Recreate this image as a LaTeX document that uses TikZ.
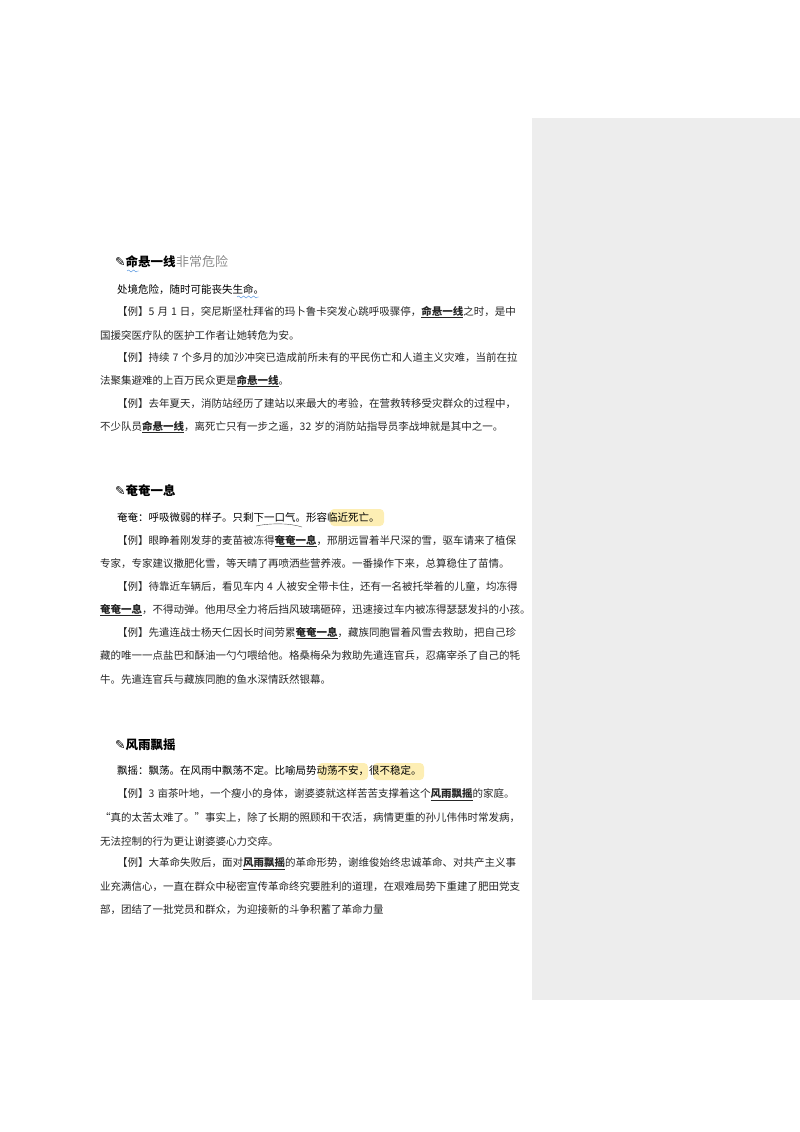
\documentclass[tikz,border=0pt]{standalone}
\usepackage{fontspec}
\setmainfont{Noto Sans CJK SC}
\newfontfamily\symfont{DejaVu Sans}
\usetikzlibrary{decorations.pathmorphing}
\XeTeXlinebreaklocale "zh"
\XeTeXlinebreakskip=0pt plus 2pt
\newcommand{\full}[1]{\makebox[422pt][s]{#1}}
\newcommand{\kw}[1]{\underline{\textbf{#1}}}
\newcommand{\pen}{{\symfont\char"270E}}
\newcommand{\gap}{\hspace{3pt}}
\definecolor{panel}{RGB}{237,237,237}
\definecolor{mark}{RGB}{253,238,180}
\definecolor{wave}{RGB}{70,140,220}
\tikzset{
    body/.style={anchor=west, inner sep=0pt, font=\fontsize{10.5}{12}\selectfont},
    example/.style={body, text=black!85},
    head/.style={anchor=west, inner sep=0pt, font=\fontsize{12.5}{14}\selectfont\bfseries},
    highlight/.style={fill=mark, rounded corners=4pt},
    squiggle/.style={wave, decorate, decoration={snake, amplitude=1pt, segment length=5pt}}
}
\begin{document}
\begin{tikzpicture}[x=1pt, y=-1pt]
    \useasboundingbox (0,0) rectangle (800,1132);
    \fill[panel] (532,118) rectangle (800,1000);

    % highlights
    \fill[highlight] (330,509) rectangle (384,526);
    \fill[highlight] (318,763) rectangle (368,780);
    \fill[highlight] (373,763) rectangle (424,780);

    % first entry
    \node[head] (h1) at (115,262) {\pen 命悬一线};
    \node[anchor=west, inner sep=0pt, text=black!45, font=\fontsize{13}{14}\selectfont\itshape] (h1note) at (h1.east) {非常危险};
    \draw[squiggle] (127,271) -- (139,271);
    \node[body] (d1) at (117,290) {处境危险，随时可能丧失生命。};
    \draw[squiggle] (237,297) -- (259,297);
    \node[example] (e1a) at (100,312) {\hspace{17pt}\makebox[405pt][s]{【例】5\gap 月\gap 1\gap 日，突尼斯坚杜拜省的玛卜鲁卡突发心跳呼吸骤停，\kw{命悬一线}之时，是中}};
    \node[example] (e1b) at (100,335) {国援突医疗队的医护工作者让她转危为安。};
    \node[example] (e2a) at (100,358) {\hspace{17pt}\makebox[405pt][s]{【例】持续\gap 7\gap 个多月的加沙冲突已造成前所未有的平民伤亡和人道主义灾难，当前在拉}};
    \node[example] (e2b) at (100,381) {法聚集避难的上百万民众更是\kw{命悬一线}。};
    \node[example] (e3a) at (100,404) {\hspace{17pt}\makebox[405pt][s]{【例】去年夏天，消防站经历了建站以来最大的考验，在营救转移受灾群众的过程中，}};
    \node[example] (e3b) at (100,427) {\full{不少队员\kw{命悬一线}，离死亡只有一步之遥，32\gap 岁的消防站指导员李战坤就是其中之一。}};

    % second entry
    \node[head] (h2) at (115,491) {\pen 奄奄一息};
    \node[body] (d2) at (117,517) {奄奄：呼吸微弱的样子。只剩下一口气。形容临近死亡。};
    \draw[black!70] (256,526) .. controls (270,523) and (290,523) .. (302,527);
    \node[example] (e4a) at (100,541) {\hspace{17pt}\makebox[405pt][s]{【例】眼睁着刚发芽的麦苗被冻得\kw{奄奄一息}，邢朋远冒着半尺深的雪，驱车请来了植保}};
    \node[example] (e4b) at (100,564) {\full{专家，专家建议撒肥化雪，等天晴了再喷洒些营养液。一番操作下来，总算稳住了苗情。}};
    \node[example] (e5a) at (100,587) {\hspace{17pt}\makebox[405pt][s]{【例】待靠近车辆后，看见车内\gap 4\gap 人被安全带卡住，还有一名被托举着的儿童，均冻得}};
    \node[example] (e5b) at (100,610) {\full{\kw{奄奄一息}，不得动弹。他用尽全力将后挡风玻璃砸碎，迅速接过车内被冻得瑟瑟发抖的小孩。}};
    \node[example] (e6a) at (100,633) {\hspace{17pt}\makebox[405pt][s]{【例】先遣连战士杨天仁因长时间劳累\kw{奄奄一息}，藏族同胞冒着风雪去救助，把自己珍}};
    \node[example] (e6b) at (100,656) {\full{藏的唯一一点盐巴和酥油一勺勺喂给他。格桑梅朵为救助先遣连官兵，忍痛宰杀了自己的牦}};
    \node[example] (e6c) at (100,679) {牛。先遣连官兵与藏族同胞的鱼水深情跃然银幕。};

    % third entry
    \node[head] (h3) at (115,745) {\pen 风雨飘摇};
    \node[body] (d3) at (117,771) {飘摇：飘荡。在风雨中飘荡不定。比喻局势动荡不安，很不稳定。};
    \node[example] (e7a) at (100,795) {\hspace{17pt}\makebox[405pt][s]{【例】3\gap 亩茶叶地，一个瘦小的身体，谢婆婆就这样苦苦支撑着这个\kw{风雨飘摇}的家庭。}};
    \node[example] (e7b) at (100,818) {\full{“真的太苦太难了。”事实上，除了长期的照顾和干农活，病情更重的孙儿伟伟时常发病，}};
    \node[example] (e7c) at (100,841) {无法控制的行为更让谢婆婆心力交瘁。};
    \node[example] (e8a) at (100,864) {\hspace{17pt}\makebox[405pt][s]{【例】大革命失败后，面对\kw{风雨飘摇}的革命形势，谢维俊始终忠诚革命、对共产主义事}};
    \node[example] (e8b) at (100,887) {\full{业充满信心，一直在群众中秘密宣传革命终究要胜利的道理，在艰难局势下重建了肥田党支}};
    \node[example] (e8c) at (100,910) {部，团结了一批党员和群众，为迎接新的斗争积蓄了革命力量};
\end{tikzpicture}
\end{document}
